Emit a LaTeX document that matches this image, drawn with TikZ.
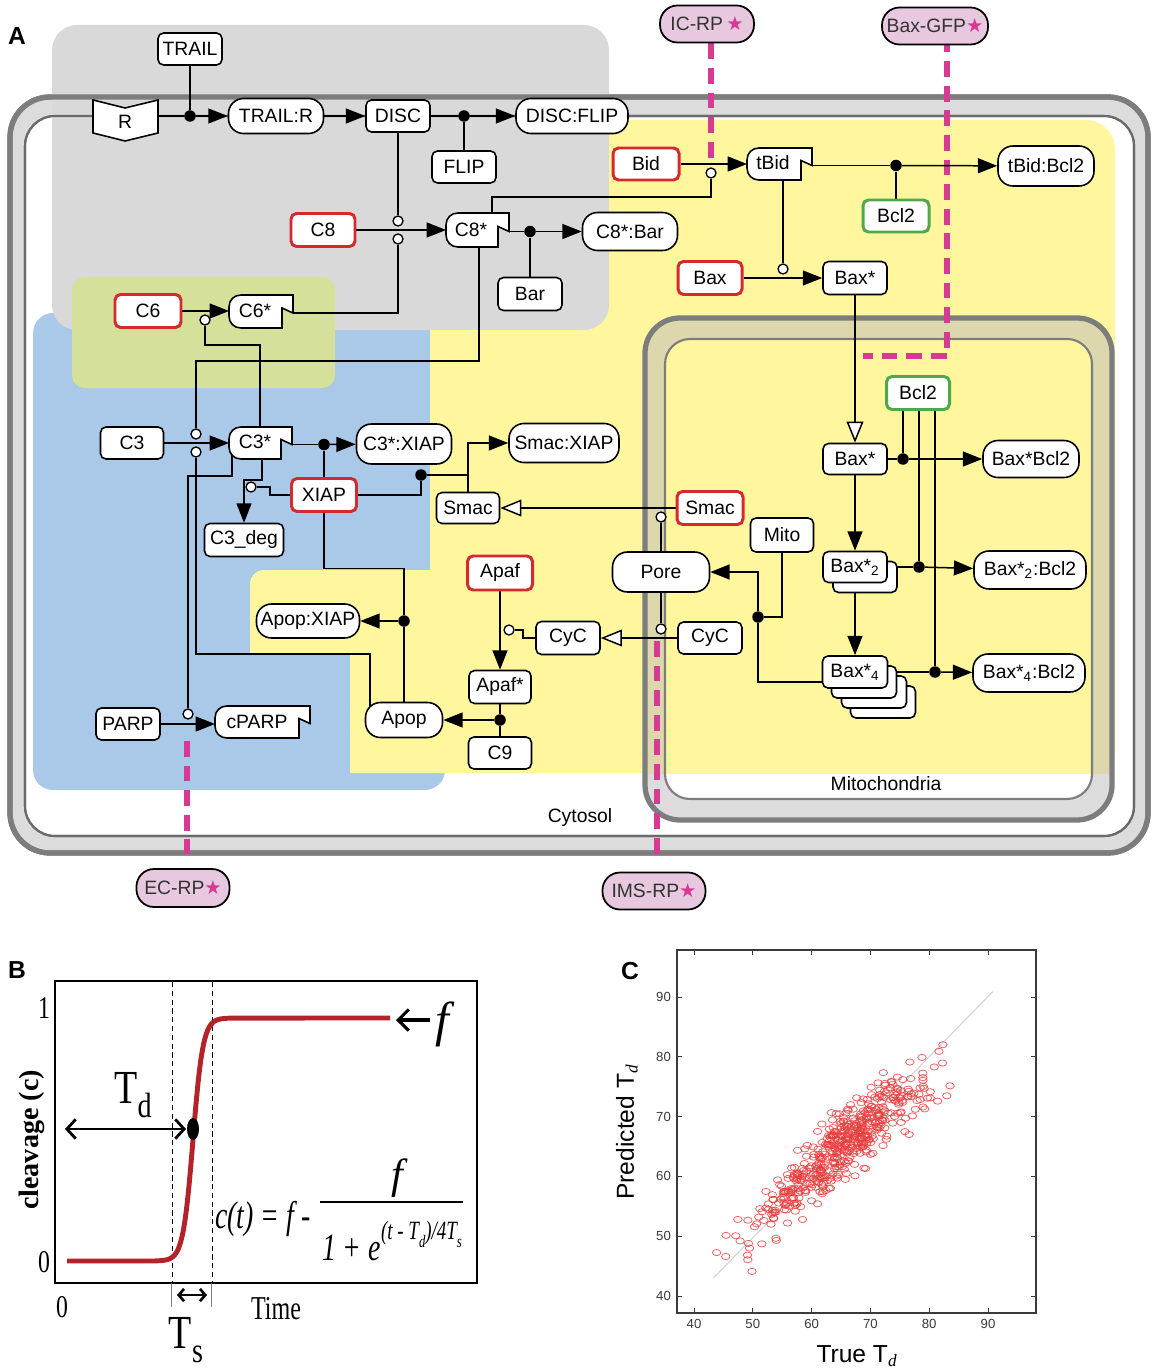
\documentclass[tikz,border=0pt]{standalone}
\usepackage{fontspec}
\setmainfont{Liberation Serif}
\setsansfont{Liberation Sans}
\newfontfamily\starfont{DejaVu Sans}
\usepackage{graphicx}
\usetikzlibrary{arrows.meta}
\definecolor{redc}{HTML}{D42A2E}
\definecolor{greenc}{HTML}{4FA84A}
\definecolor{memdark}{HTML}{7D7D7D}
\definecolor{memlight}{HTML}{DCDCDC}
\definecolor{meminner}{HTML}{6A6A6A}
\definecolor{grayreg}{HTML}{DAD9DA}
\definecolor{bluereg}{HTML}{AAC8E7}
\definecolor{yellowreg}{HTML}{FFF69D}
\definecolor{greenreg}{HTML}{D5E09A}
\definecolor{beige}{HTML}{DCD7AC}
\definecolor{pinkf}{HTML}{E7C8DF}
\definecolor{magc}{HTML}{D63A92}
\definecolor{curvc}{HTML}{B5232A}
\definecolor{scatc}{HTML}{E83C3C}
\definecolor{darktext}{HTML}{333333}
\definecolor{axisgray}{HTML}{3A3A3A}
\pgfdeclarelayer{bg}
\pgfdeclarelayer{conn}
\pgfsetlayers{bg,conn,main}
\newcommand{\nfont}{\sffamily\fontsize{11}{13}\selectfont}
\newcommand{\rpstar}{{\starfont\color{magc}★}}
% tab-shaped species: left x, top y, right x, bottom y
\newcommand{\tabshape}[4]{%
  \draw[line width=0.9pt, fill=white] ({#1+12},#2) -- (#3,#2) -- (#3,{(#2+#4)/2+1.5}) -- ({#3-11},{(#2+#4)/2-3.5}) -- ({#3-11},#4) -- ({#1+12},#4) .. controls ({#1+5},#4) and (#1,{#4-5}) .. (#1,{#4-12}) -- (#1,{#2+12}) .. controls (#1,{#2+5}) and ({#1+5},#2) .. ({#1+12},#2) -- cycle;}
\begin{document}
\begin{tikzpicture}[x=0.02cm,y=-0.02cm,
  nd/.style={draw=black, fill=white, line width=0.9pt, rounded corners=0.11cm, inner sep=0pt, font=\nfont, text=black},
  pl/.style={nd, rounded corners=0.3cm},
  rb/.style={draw=redc, line width=1.7pt},
  gb/.style={draw=greenc, line width=1.7pt},
  sz/.style 2 args={minimum width=#1*0.02cm, minimum height=#2*0.02cm},
  txt/.style={font=\nfont, inner sep=0pt},
  ln/.style={line width=0.85pt, draw=black},
  ar/.style={ln, -{Triangle[length=11pt,width=8.5pt]}},
  oar/.style={ln, -{Triangle[length=12pt,width=9.5pt,fill=white]}},
  jd/.style={circle, fill=black, inner sep=0pt, minimum size=0.23cm},
  jo/.style={circle, draw=black, fill=white, line width=0.75pt, inner sep=0pt, minimum size=0.2cm},
  rp/.style={draw=black, fill=pinkf, line width=1pt, rounded corners=0.35cm, inner sep=0pt, font=\nfont, text=darktext},
  mg/.style={draw=magc, line width=3pt, dash pattern=on 9pt off 5pt},
  tl/.style={font=\sffamily\fontsize{7.5}{9}\selectfont, text=axisgray, inner sep=1pt}
]
\useasboundingbox (0,0) rectangle (1158,1371);

% ================= PANEL A : backgrounds =================
\begin{pgfonlayer}{bg}
\filldraw[fill=memlight, draw=memdark, line width=3pt, rounded corners=0.8cm] (10,97) rectangle (1148,853);
\filldraw[fill=white, draw=meminner, line width=1.2pt, rounded corners=0.6cm] (25,116) rectangle (1134,836);
\fill[bluereg, rounded corners=0.4cm] (33,313) rectangle (445,790);
\fill[yellowreg] (430,120) -- (1085,120) .. controls (1102,120) and (1115,133) .. (1115,150) -- (1115,750) .. controls (1115,763) and (1105,773) .. (1092,773) -- (350,773) -- (350,653) -- (250,653) -- (250,584) .. controls (250,576) and (256,570) .. (264,570) -- (430,570) -- cycle;
% mitochondrion
\fill[memlight, rounded corners=0.7cm] (645,318) rectangle (1112,820);
\begin{scope}
\clip (600,300) rectangle (1116,773);
\fill[beige, rounded corners=0.7cm] (645,318) rectangle (1112,820);
\end{scope}
\fill[white, rounded corners=0.5cm] (665,339) rectangle (1092,799);
\begin{scope}
\clip (600,300) rectangle (1116,773);
\fill[yellowreg, rounded corners=0.5cm] (665,339) rectangle (1092,799);
\end{scope}
\draw[memdark, line width=3pt, rounded corners=0.7cm] (645,318) rectangle (1112,820);
\draw[memdark, line width=1.2pt, rounded corners=0.5cm] (665,339) rectangle (1092,799);
% gray and green regions
\fill[grayreg, rounded corners=0.5cm] (52,25) rectangle (609,330);
\fill[greenreg, rounded corners=0.25cm] (72,277) rectangle (335,388);
% membrane outlines on top
\draw[memdark, line width=3pt, rounded corners=0.8cm] (10,97) rectangle (1148,853);
\draw[meminner, line width=1.2pt, rounded corners=0.6cm] (25,116) rectangle (1134,836);
\node[txt] (cyto) at (580,817) {Cytosol};
\node[txt] (mitolab) at (886,784) {Mitochondria};
\end{pgfonlayer}

\node[font=\sffamily\bfseries\fontsize{14}{14}\selectfont, inner sep=0] (labA) at (17,36) {A};

% ================= PANEL A : species =================
\node[nd, sz={64}{32}] (TRAIL) at (190,49) {TRAIL};
\draw[line width=0.9pt, fill=white] (93,100) -- (125,108) -- (158,100) -- (158,133) -- (125,141) -- (93,133) -- cycle;
\node[txt] (R) at (125,122) {R};
\coordinate (Re) at (158,116);
\node[pl, sz={95}{35}] (TRAILR) at (276,116) {TRAIL:R};
\node[nd, sz={64}{32}] (DISC) at (398,116) {DISC};
\node[nd, sz={64}{32}] (FLIP) at (464,167) {FLIP};
\node[pl, sz={112}{35}] (DISCFLIP) at (572,116) {DISC:FLIP};

\node[nd, rb, sz={66}{32}] (Bid) at (646,164) {Bid};
\tabshape{747}{148}{812}{180}
\node[txt] (tBid) at (773,163) {tBid};
\coordinate (tBidW) at (747,164);
\coordinate (tBidE) at (812,165.5);
\coordinate (tBidB) at (783,178);
\node[nd, gb, sz={66}{32}] (BclA) at (896,216) {Bcl2};
\node[pl, sz={96}{40}] (tBidBcl) at (1046,166) {tBid:Bcl2};

\node[nd, rb, sz={64}{33}] (C8) at (323,230) {C8};
\tabshape{446}{213}{509}{247}
\node[txt] (C8s) at (471,230) {C8*};
\coordinate (C8sW) at (446,230);
\coordinate (C8sE) at (509,231.5);
\coordinate (C8sT) at (492,215);
\coordinate (C8sB) at (479,245);
\node[nd, sz={64}{33}] (Bar) at (530,294) {Bar};
\node[pl, sz={95}{38}] (C8sBar) at (630,231.5) {C8*:Bar};

\node[nd, rb, sz={64}{33}] (Bax) at (710,278) {Bax};
\node[nd, sz={64}{33}] (Baxs) at (855,278) {Bax*};

\node[nd, rb, sz={66}{33}] (C6) at (148,311) {C6};
\tabshape{229}{295}{293}{328}
\node[txt] (C6s) at (255,311) {C6*};
\coordinate (C6sW) at (229,311);
\coordinate (C6sE) at (293,313);

\node[nd, sz={63}{32}] (C3) at (132,443) {C3};
\tabshape{229}{427}{292}{459}
\node[txt] (C3s) at (255,442) {C3*};
\coordinate (C3sW) at (229,443);
\coordinate (C3sE) at (292,444.5);
\coordinate (C3sT) at (260,429);
\coordinate (C3sBa) at (232,452);
\coordinate (C3sBb) at (262,457);
\node[pl, sz={95}{40}] (C3sXIAP) at (404,444) {C3*:XIAP};
\node[pl, sz={110}{39}] (SmacXIAP) at (564,443) {Smac:XIAP};
\node[nd, rb, sz={65}{33}] (XIAP) at (324,495) {XIAP};
\node[nd, sz={63}{31}] (Smacc) at (468,508) {Smac};
\node[nd, rb, sz={66}{33}] (Smacm) at (710,508) {Smac};
\node[nd, sz={79}{33}] (C3deg) at (244,540) {C3\_deg};
\node[nd, sz={63}{34}] (Mito) at (782,535) {Mito};
\node[pl, sz={97}{40}] (Pore) at (661,572) {Pore};
\node[nd, rb, sz={65}{34}] (Apaf) at (500,573) {Apaf};
\node[pl, sz={103}{34}] (ApopXIAP) at (308,621) {Apop:XIAP};
\node[nd, sz={64}{33}] (CyCc) at (568,638) {CyC};
\node[nd, sz={64}{32}] (CyCm) at (710,638) {CyC};
\node[nd, sz={62}{33}] (Apafs) at (500,687) {Apaf*};
\node[pl, sz={77}{35}] (Apop) at (404,720) {Apop};
\coordinate (ApopNW) at (370,706);
\node[nd, sz={63}{32}] (C9) at (500,753) {C9};
\node[nd, sz={64}{32}] (PARP) at (128,724) {PARP};
\tabshape{215}{706}{310}{738}
\node[txt] (cPARP) at (257,722) {cPARP};
\coordinate (cPARPW) at (215,724);

\node[nd, sz={64}{31}] (BaxM) at (855,459) {Bax*};
\node[nd, gb, sz={63}{33}] (BclB) at (918,393) {Bcl2};
\node[pl, sz={96}{37}] (BaxBcl) at (1031,459) {Bax*Bcl2};
\node[nd, sz={64}{31}] (BaxTwoB) at (865,577) {};
\node[nd, sz={64}{31}] (BaxTwo) at (855,567) {Bax*\textsubscript{2}};
\node[pl, sz={112}{38}] (BaxTwoBcl) at (1030,570) {Bax*\textsubscript{2}:Bcl2};
\node[nd, sz={65}{32}] (BaxFourC) at (883,702) {};
\node[nd, sz={65}{32}] (BaxFourB) at (874,692) {};
\node[nd, sz={65}{32}] (BaxFourA) at (864,682) {};
\node[nd, sz={65}{32}] (BaxFour) at (855,672) {Bax*\textsubscript{4}};
\coordinate (BFourL) at (823,682);
\node[pl, sz={112}{38}] (BaxFourBcl) at (1029,673) {Bax*\textsubscript{4}:Bcl2};

% reporters
\node[rp, sz={94}{37}] (ICRP) at (707,24) {IC-RP\,\rpstar};
\node[rp, sz={106}{37}] (BaxGFP) at (935,26) {Bax-GFP\rpstar};
\node[rp, sz={93}{38}] (ECRP) at (183,888) {EC-RP\rpstar};
\node[rp, sz={103}{37}] (IMSRP) at (654,891) {IMS-RP\rpstar};

% junctions
\node[jd] (j1) at (190,116) {};
\node[jd] (j2) at (464,116) {};
\node[jd] (j3) at (530,231.5) {};
\node[jd] (j4) at (896,165.5) {};
\node[jd] (j5) at (324,444.5) {};
\node[jd] (j6) at (421,475) {};
\node[jd] (j7) at (500,720) {};
\node[jd] (j8) at (404,621) {};
\node[jd] (j9) at (758,617) {};
\node[jd] (j10) at (903,459) {};
\node[jd] (j11) at (919,567) {};
\node[jd] (j12) at (935,672) {};
\node[jo] (o1) at (398,221) {};
\node[jo] (o2) at (398,239) {};
\node[jo] (o3) at (711,173) {};
\node[jo] (o4) at (205,320) {};
\node[jo] (o5) at (783,269) {};
\node[jo] (o6) at (196,434) {};
\node[jo] (o7) at (196,452) {};
\node[jo] (o8) at (251,487) {};
\node[jo] (o9) at (188,714) {};
\node[jo] (o10) at (661,517) {};
\node[jo] (o11) at (661,629) {};
\node[jo] (o12) at (509,630) {};
\coordinate (k2) at (468,475);
\coordinate (icend) at (711,160);
\coordinate (bgA) at (947,356);
\coordinate (bgB) at (863,356);
\coordinate (ecA) at (187,741);
\coordinate (imA) at (657,641);

% ================= PANEL A : connectors =================
\begin{pgfonlayer}{conn}
\draw[mg] (icend |- ICRP.south) -- (icend);
\draw[mg, dash phase=5pt] (bgA |- BaxGFP.south) -- (bgA) -- (bgB);
\draw[mg, shorten >=0.28cm] (ecA) -- (ecA |- ECRP.north);
\draw[mg, shorten >=0.3cm] (imA) -- (imA |- IMSRP.north);

\draw[ln] (TRAIL) -- (j1);
\draw[ln] (Re) -- (j1);
\draw[ar] (j1) -- (TRAILR);
\draw[ar] (TRAILR) -- (DISC);
\draw[ln] (DISC) -- (j2);
\draw[ln] (FLIP) -- (j2);
\draw[ar] (j2) -- (DISCFLIP);
\draw[ln] (DISC) -- (o1);
\draw[ar] (C8) -- (C8sW);
\draw[ln] (C6sE) -| (o2);
\draw[ln] (C8sE) -- (j3);
\draw[ln] (Bar) -- (j3);
\draw[ar] (j3) -- (C8sBar);
\draw[ln] (C8sT) -- ++(0,-18) -| (o3);
\draw[ln] (C8sB) -- ++(0,116) -| (o6);
\draw[ar] (Bid) -- (tBidW);
\draw[ln] (tBidE) -- (j4);
\draw[ln] (BclA) -- (j4);
\draw[ar] (j4) -- (tBidBcl);
\draw[ln] (tBidB) -- (o5);
\draw[ar] (Bax) -- (Baxs);
\draw[oar] (Baxs) -- (BaxM);
\draw[ar] (C6) -- (C6sW);
\draw[ln] (C3sT) -- ++(0,-84) -| (o4);
\draw[ar] (C3) -- (C3sW);
\draw[ln] (C3sE) -- (j5);
\draw[ln] (XIAP) -- (j5);
\draw[ar] (j5) -- (C3sXIAP);
\draw[ar] (C3sBb) -- ++(0,23) -| (C3deg);
\draw[ln] (XIAP.west) -- ++(-20,0) -- ++(0,-8) -- (o8);
\draw[ln] (C3sBa) -- ++(0,24) -| (o9);
\draw[ar] (PARP) -- (cPARPW);
\draw[ln] (ApopNW) -- ++(0,-52) -| (o7);
\draw[ln] (XIAP) -| (j6);
\draw[ln] (j6) -- (k2);
\draw[ar] (Smacc) |- (SmacXIAP);
\draw[oar] (Smacm) -- (Smacc);
\draw[ln] (Pore) -- (o10);
\draw[ln] (Pore) -- (o11);
\draw[oar] (CyCm) -- (CyCc);
\draw[ar] (Apaf) -- (Apafs);
\draw[ln] (CyCc.west) -- ++(-12,0) |- (o12);
\draw[ln] (C9) -- (j7);
\draw[ln] (Apafs) -- (j7);
\draw[ar] (j7) -- (Apop);
\draw[ln] (Apop) -- (j8);
\draw[ar] (j8) -- (ApopXIAP);
\draw[ln] (XIAP.south) -- ++(0,55.5) -| (j8);
\draw[ln] (Mito) |- (j9);
\draw[ln] (BFourL) -| (j9);
\draw[ar] (j9) |- (Pore);
\draw[ar] (BaxM) -- (BaxTwo);
\draw[ar] (BaxTwo) -- (BaxFour);
\draw[ln] (j10 |- BclB.south) -- (j10);
\draw[ln] (j11 |- BclB.south) -- (j11);
\draw[ln] (j12 |- BclB.south) -- (j12);
\draw[ln] (BaxM) -- (j10);
\draw[ar] (j10) -- (BaxBcl);
\draw[ln] (BaxTwo) -- (j11);
\draw[ar] (j11) -- (BaxTwoBcl);
\draw[ln] (BaxFour) -- (j12);
\draw[ar] (j12) -- (BaxFourBcl);
\end{pgfonlayer}

% ================= PANEL B =================
\node[font=\sffamily\bfseries\fontsize{14}{14}\selectfont, inner sep=0] (labB) at (17,970) {B};
\draw[line width=0.4pt, dash pattern=on 3pt off 2pt] (172,982) -- (172,1282);
\draw[line width=0.4pt, dash pattern=on 3pt off 2pt] (212,982) -- (212,1282);
\draw[line width=1.5pt] (55,981) rectangle (477,1283);
\draw[gray, line width=0.5pt] (171,1283) -- (171,1307);
\draw[gray, line width=0.5pt] (211,1283) -- (211,1307);
\draw[curvc, line width=2.8pt, line join=round] (67,1261) -- (155,1261) -- plot[domain=155:235, samples=90] (\x,{1261-243/(1+exp(-(\x-193)/5))}) -- (390,1018);
\draw[line width=1.6pt, {Straight Barb[length=5pt,width=11pt]}-{Straight Barb[length=5pt,width=11pt]}] (65,1129) -- (186,1129);
\fill (193,1129) ellipse [x radius=0.12cm, y radius=0.22cm];
\draw[line width=1.5pt, {Straight Barb[length=3pt,width=7pt]}-{Straight Barb[length=3pt,width=7pt]}] (177,1295) -- (207,1295);
\draw[line width=1.8pt, -{Straight Barb[length=6pt,width=12pt]}] (430,1020) -- (396,1020);
\node[font=\rmfamily\bfseries\fontsize{16}{16}\selectfont, rotate=90] (ylabB) at (32,1140) {cleavage (c)};
\node[inner sep=0] (Td) at (133,1095) {\scalebox{0.8}[1]{\fontsize{27}{27}\selectfont T\raisebox{-0.3em}{\fontsize{20}{20}\selectfont d}}};
\node[inner sep=0] (Ts) at (186,1340) {\scalebox{0.8}[1]{\fontsize{27}{27}\selectfont T\raisebox{-0.3em}{\fontsize{20}{20}\selectfont s}}};
\node[font=\rmfamily\fontsize{18}{18}\selectfont, inner sep=0] (one) at (44,1008) {\scalebox{0.75}[1]{1}};
\node[font=\rmfamily\fontsize{18}{18}\selectfont, inner sep=0] (zeroy) at (44,1262) {\scalebox{0.75}[1]{0}};
\node[font=\rmfamily\fontsize{18}{18}\selectfont, inner sep=0] (zerox) at (62,1307) {\scalebox{0.75}[1]{0}};
\node[font=\rmfamily\fontsize{19}{19}\selectfont, inner sep=0] (time) at (276,1309) {\scalebox{0.72}[1]{Time}};
\node[inner sep=0] (ct) at (263,1219) {\scalebox{0.72}[1]{\fontsize{22}{22}\selectfont\itshape c(t) = f -}};
\draw[line width=1.2pt] (320,1202) -- (463,1202);
\node[inner sep=0] (num) at (397,1178) {\fontsize{24}{24}\selectfont\itshape f};
\node[inner sep=0] (den) at (392,1241) {\scalebox{0.72}[1]{\fontsize{22}{22}\selectfont\itshape 1 + e\raisebox{0.55em}{\fontsize{15}{15}\selectfont (t - T\raisebox{-0.3em}{\fontsize{10}{10}\selectfont d})/4T\raisebox{-0.3em}{\fontsize{10}{10}\selectfont s}}}};
\node[inner sep=0] (fright) at (442,1024) {\fontsize{28}{28}\selectfont\itshape f};

% ================= PANEL C =================
\node[font=\sffamily\bfseries\fontsize{14}{14}\selectfont, inner sep=0] (labC) at (630,971) {C};
\begin{scope}
\clip (677,950) rectangle (1036,1313);
\draw[gray!35, line width=0.6pt] (713.4,1278.1) -- (992.7,991.6);
\pgfmathsetseed{4711}
\foreach \i in {1,...,500}{
  \pgfmathsetmacro\tx{64.5+13*(rnd+rnd+rnd+rnd-2)}
  \pgfmathsetmacro\ty{(\tx<64)*(\tx+0.5)+(\tx>=64)*(64.5+0.74*(\tx-64))+5.4*(rnd+rnd+rnd-1.5)}
  \draw[scatc, line width=0.45pt, opacity=0.8] ({694+(\tx-40)*5.88},{1296-(\ty-40)*5.98}) ellipse [x radius=0.085cm, y radius=0.062cm];
}
\end{scope}
\draw[axisgray, line width=0.9pt] (677,950) rectangle (1036,1313);
\foreach \v in {40,50,...,90}{
  \pgfmathsetmacro\xx{694+(\v-40)*5.88}
  \pgfmathsetmacro\yy{1296-(\v-40)*5.98}
  \draw[axisgray, line width=0.5pt] (\xx,1313) -- (\xx,1308);
  \draw[axisgray, line width=0.5pt] (\xx,950) -- (\xx,955);
  \draw[axisgray, line width=0.5pt] (677,\yy) -- (682,\yy);
  \draw[axisgray, line width=0.5pt] (1036,\yy) -- (1031,\yy);
  \node[tl] at (\xx,1324) {\v};
  \node[tl, anchor=east] at (673,\yy) {\v};
}
\node[font=\sffamily\fontsize{14}{14}\selectfont, rotate=90, inner sep=0] (ylabC) at (627,1132) {Predicted T\textsubscript{\rmfamily\itshape d}};
\node[font=\sffamily\fontsize{14}{14}\selectfont, inner sep=0] (xlabC) at (857,1356) {True T\textsubscript{\rmfamily\itshape d}};
\end{tikzpicture}
\end{document}
